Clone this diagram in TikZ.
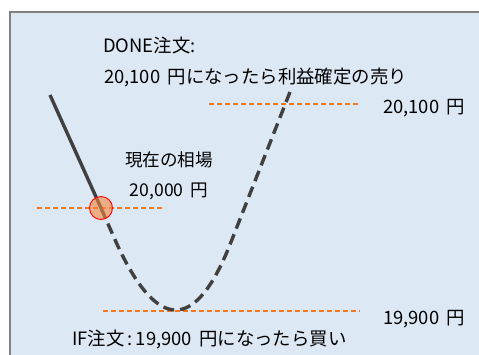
\documentclass[tikz,border=0pt]{standalone}
\usepackage{fontspec}
\usetikzlibrary{calc}
\setmainfont{Noto Sans CJK JP}
\definecolor{panelblue}{RGB}{221,232,245}
\definecolor{framegray}{RGB}{128,128,128}
\definecolor{pricegray}{RGB}{64,64,64}
\definecolor{lineorange}{RGB}{245,120,30}
\newcommand{\yen}{\hspace{0.4em}円}
\tikzset{
  label/.style = {inner sep = 0pt, font = \fontsize{18.4}{22}\selectfont},
  smalllabel/.style = {inner sep = 0pt, font = \fontsize{17.6}{21}\selectfont},
  level/.style = {lineorange, line width = 1.4pt, dash pattern = on 5pt off 3pt},
  price/.style = {pricegray, line width = 3.4pt},
}

\begin{document}
\begin{tikzpicture}[x = 1pt, y = -1pt]
  \clip (0, 0) rectangle (479, 354);
  \fill[white] (0, 0) rectangle (479, 354);
  \draw[framegray, fill = panelblue, line width = 2.5pt] (10, 12) rectangle (500, 380);

  \coordinate (start) at (50, 95);
  \coordinate (now) at (101, 208);
  \coordinate (leftarm) at (116, 242);
  \coordinate (dip) at (178, 378);
  \coordinate (rightarm) at (231, 242);
  \coordinate (top) at (290, 92);

  \draw[level] (209, 104) -- (358, 104);
  \draw[level] (37, 208) -- (165, 208);
  \draw[level] (103, 311) -- (360, 311);

  \draw[price] (start) -- (now);
  \draw[price, dash pattern = on 11pt off 6pt] (now) -- (leftarm)
    .. controls ($(leftarm)!2/3!(dip)$) and ($(rightarm)!2/3!(dip)$) .. (rightarm) -- (top);
  \draw[red, line width = 0.9pt, fill = {rgb,255:red,247;green,135;blue,60}, fill opacity = 0.6] (now) circle (11.5);

  \node[label, anchor = west] (done) at (103, 45) {DONE注文:};
  \node[label, anchor = west] (sell) at (104, 77) {20,100\yen になったら利益確定の売り};
  \node[label, anchor = west] (high) at (383, 108) {20,100\yen};
  \node[smalllabel] (market) at (169, 160) {現在の相場};
  \node[smalllabel] (spot) at (169, 191) {20,000\yen};
  \node[label, anchor = west] (low) at (383, 319) {19,900\yen};
  \node[label, anchor = west] (buy) at (72, 339) {IF注文\,:\,19,900\yen になったら買い};
\end{tikzpicture}
\end{document}
